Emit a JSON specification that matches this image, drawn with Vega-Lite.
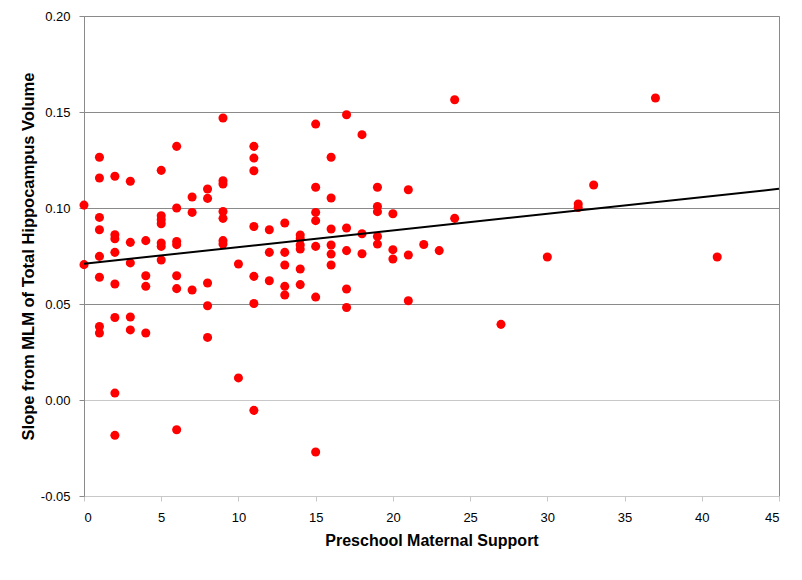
{
  "$schema": "https://vega.github.io/schema/vega-lite/v6.json",
  "width": 695,
  "height": 480,
  "autosize": {"type": "none"},
  "padding": {"left": 84, "top": 16, "right": 23, "bottom": 84},
  "background": "white",
  "config": {
    "font": "Liberation Sans",
    "view": {"stroke": "#8a8a8a", "strokeWidth": 1}
  },
  "datasets": {
    "pts": [
      {"support": 0, "slope": 0.1015}, {"support": 0, "slope": 0.0705},
      {"support": 1, "slope": 0.1264}, {"support": 1, "slope": 0.1156}, {"support": 1, "slope": 0.0951}, {"support": 1, "slope": 0.0887}, {"support": 1, "slope": 0.0748}, {"support": 1, "slope": 0.0639}, {"support": 1, "slope": 0.0383}, {"support": 1, "slope": 0.0349},
      {"support": 2, "slope": 0.1165}, {"support": 2, "slope": 0.0861}, {"support": 2, "slope": 0.0840}, {"support": 2, "slope": 0.0769}, {"support": 2, "slope": 0.0604}, {"support": 2, "slope": 0.0430}, {"support": 2, "slope": 0.0036}, {"support": 2, "slope": -0.0184},
      {"support": 3, "slope": 0.1139}, {"support": 3, "slope": 0.0821}, {"support": 3, "slope": 0.0714}, {"support": 3, "slope": 0.0432}, {"support": 3, "slope": 0.0365},
      {"support": 4, "slope": 0.0830}, {"support": 4, "slope": 0.0647}, {"support": 4, "slope": 0.0592}, {"support": 4, "slope": 0.0349},
      {"support": 5, "slope": 0.1196}, {"support": 5, "slope": 0.0960}, {"support": 5, "slope": 0.0939}, {"support": 5, "slope": 0.0918}, {"support": 5, "slope": 0.0818}, {"support": 5, "slope": 0.0800}, {"support": 5, "slope": 0.0729},
      {"support": 6, "slope": 0.1321}, {"support": 6, "slope": 0.1000}, {"support": 6, "slope": 0.0826}, {"support": 6, "slope": 0.0809}, {"support": 6, "slope": 0.0647}, {"support": 6, "slope": 0.0580}, {"support": 6, "slope": -0.0155},
      {"support": 7, "slope": 0.1057}, {"support": 7, "slope": 0.0977}, {"support": 7, "slope": 0.0573},
      {"support": 8, "slope": 0.1099}, {"support": 8, "slope": 0.1050}, {"support": 8, "slope": 0.0609}, {"support": 8, "slope": 0.0491}, {"support": 8, "slope": 0.0326},
      {"support": 9, "slope": 0.1469}, {"support": 9, "slope": 0.1142}, {"support": 9, "slope": 0.1125}, {"support": 9, "slope": 0.0982}, {"support": 9, "slope": 0.0946}, {"support": 9, "slope": 0.0830}, {"support": 9, "slope": 0.0812},
      {"support": 10, "slope": 0.0708}, {"support": 10, "slope": 0.0115},
      {"support": 11, "slope": 0.1321}, {"support": 11, "slope": 0.1260}, {"support": 11, "slope": 0.1194}, {"support": 11, "slope": 0.0904}, {"support": 11, "slope": 0.0644}, {"support": 11, "slope": 0.0503}, {"support": 11, "slope": -0.0054},
      {"support": 12, "slope": 0.0887}, {"support": 12, "slope": 0.0769}, {"support": 12, "slope": 0.0621},
      {"support": 13, "slope": 0.0922}, {"support": 13, "slope": 0.0769}, {"support": 13, "slope": 0.0703}, {"support": 13, "slope": 0.0592}, {"support": 13, "slope": 0.0547},
      {"support": 14, "slope": 0.0859}, {"support": 14, "slope": 0.0840}, {"support": 14, "slope": 0.0807}, {"support": 14, "slope": 0.0786}, {"support": 14, "slope": 0.0682}, {"support": 14, "slope": 0.0601},
      {"support": 15, "slope": 0.1437}, {"support": 15, "slope": 0.1108}, {"support": 15, "slope": 0.0977}, {"support": 15, "slope": 0.0934}, {"support": 15, "slope": 0.0800}, {"support": 15, "slope": 0.0536}, {"support": 15, "slope": -0.0271},
      {"support": 16, "slope": 0.1264}, {"support": 16, "slope": 0.1052}, {"support": 16, "slope": 0.0891}, {"support": 16, "slope": 0.0807}, {"support": 16, "slope": 0.0760}, {"support": 16, "slope": 0.0703},
      {"support": 17, "slope": 0.1486}, {"support": 17, "slope": 0.0896}, {"support": 17, "slope": 0.0778}, {"support": 17, "slope": 0.0578}, {"support": 17, "slope": 0.0482},
      {"support": 18, "slope": 0.1382}, {"support": 18, "slope": 0.0866}, {"support": 18, "slope": 0.0762},
      {"support": 19, "slope": 0.1108}, {"support": 19, "slope": 0.1008}, {"support": 19, "slope": 0.0981}, {"support": 19, "slope": 0.0852}, {"support": 19, "slope": 0.0812},
      {"support": 20, "slope": 0.0970}, {"support": 20, "slope": 0.0783}, {"support": 20, "slope": 0.0734},
      {"support": 21, "slope": 0.1095}, {"support": 21, "slope": 0.0755}, {"support": 21, "slope": 0.0517},
      {"support": 22, "slope": 0.0810},
      {"support": 23, "slope": 0.0778},
      {"support": 24, "slope": 0.1564}, {"support": 24, "slope": 0.0946},
      {"support": 27, "slope": 0.0394},
      {"support": 30, "slope": 0.0745},
      {"support": 32, "slope": 0.1021}, {"support": 32, "slope": 0.1003},
      {"support": 33, "slope": 0.1120},
      {"support": 37, "slope": 0.1573},
      {"support": 41, "slope": 0.0745}
    ]
  },
  "layer": [
    {
      "data": {"name": "pts"},
      "mark": {"type": "circle", "size": 82, "color": "#ff0000", "opacity": 1},
      "encoding": {
        "x": {
          "field": "support", "type": "quantitative",
          "scale": {"domain": [0, 45], "nice": false, "zero": false},
          "axis": {
            "title": "Preschool Maternal Support",
            "values": [0, 5, 10, 15, 20, 25, 30, 35, 40, 45],
            "grid": false,
            "domainColor": "#c8c8c8",
            "tickColor": "#c8c8c8",
            "tickSize": 5,
            "labelFontSize": 13,
            "labelColor": "#000000",
            "labelPadding": 10,
            "titleFontSize": 16,
            "titleFontWeight": "bold",
            "titleColor": "#000000",
            "titlePadding": 8
          }
        },
        "y": {
          "field": "slope", "type": "quantitative",
          "scale": {"domain": [-0.05, 0.2], "nice": false, "zero": false},
          "axis": {
            "title": "Slope from MLM of Total Hippocampus Volume",
            "values": [-0.05, 0, 0.05, 0.1, 0.15, 0.2],
            "format": ".2f",
            "labelExpr": "replace(datum.label, '\u2212', '-')",
            "grid": true,
            "gridColor": {"condition": {"test": "datum.value === 0", "value": "#c8c8c8"}, "value": "#8a8a8a"},
            "domainColor": "#8a8a8a",
            "tickColor": "#8a8a8a",
            "tickSize": 5,
            "labelFontSize": 13,
            "labelColor": "#000000",
            "labelPadding": 9,
            "titleFontSize": 16.5,
            "titleFontWeight": "bold",
            "titleColor": "#000000",
            "titlePadding": 4
          }
        }
      }
    },
    {
      "data": {"name": "pts"},
      "transform": [
        {"regression": "slope", "on": "support", "method": "linear", "extent": [0, 45]}
      ],
      "mark": {"type": "line", "color": "#000000", "strokeWidth": 2},
      "encoding": {
        "x": {"field": "support", "type": "quantitative"},
        "y": {"field": "slope", "type": "quantitative"}
      }
    }
  ]
}
